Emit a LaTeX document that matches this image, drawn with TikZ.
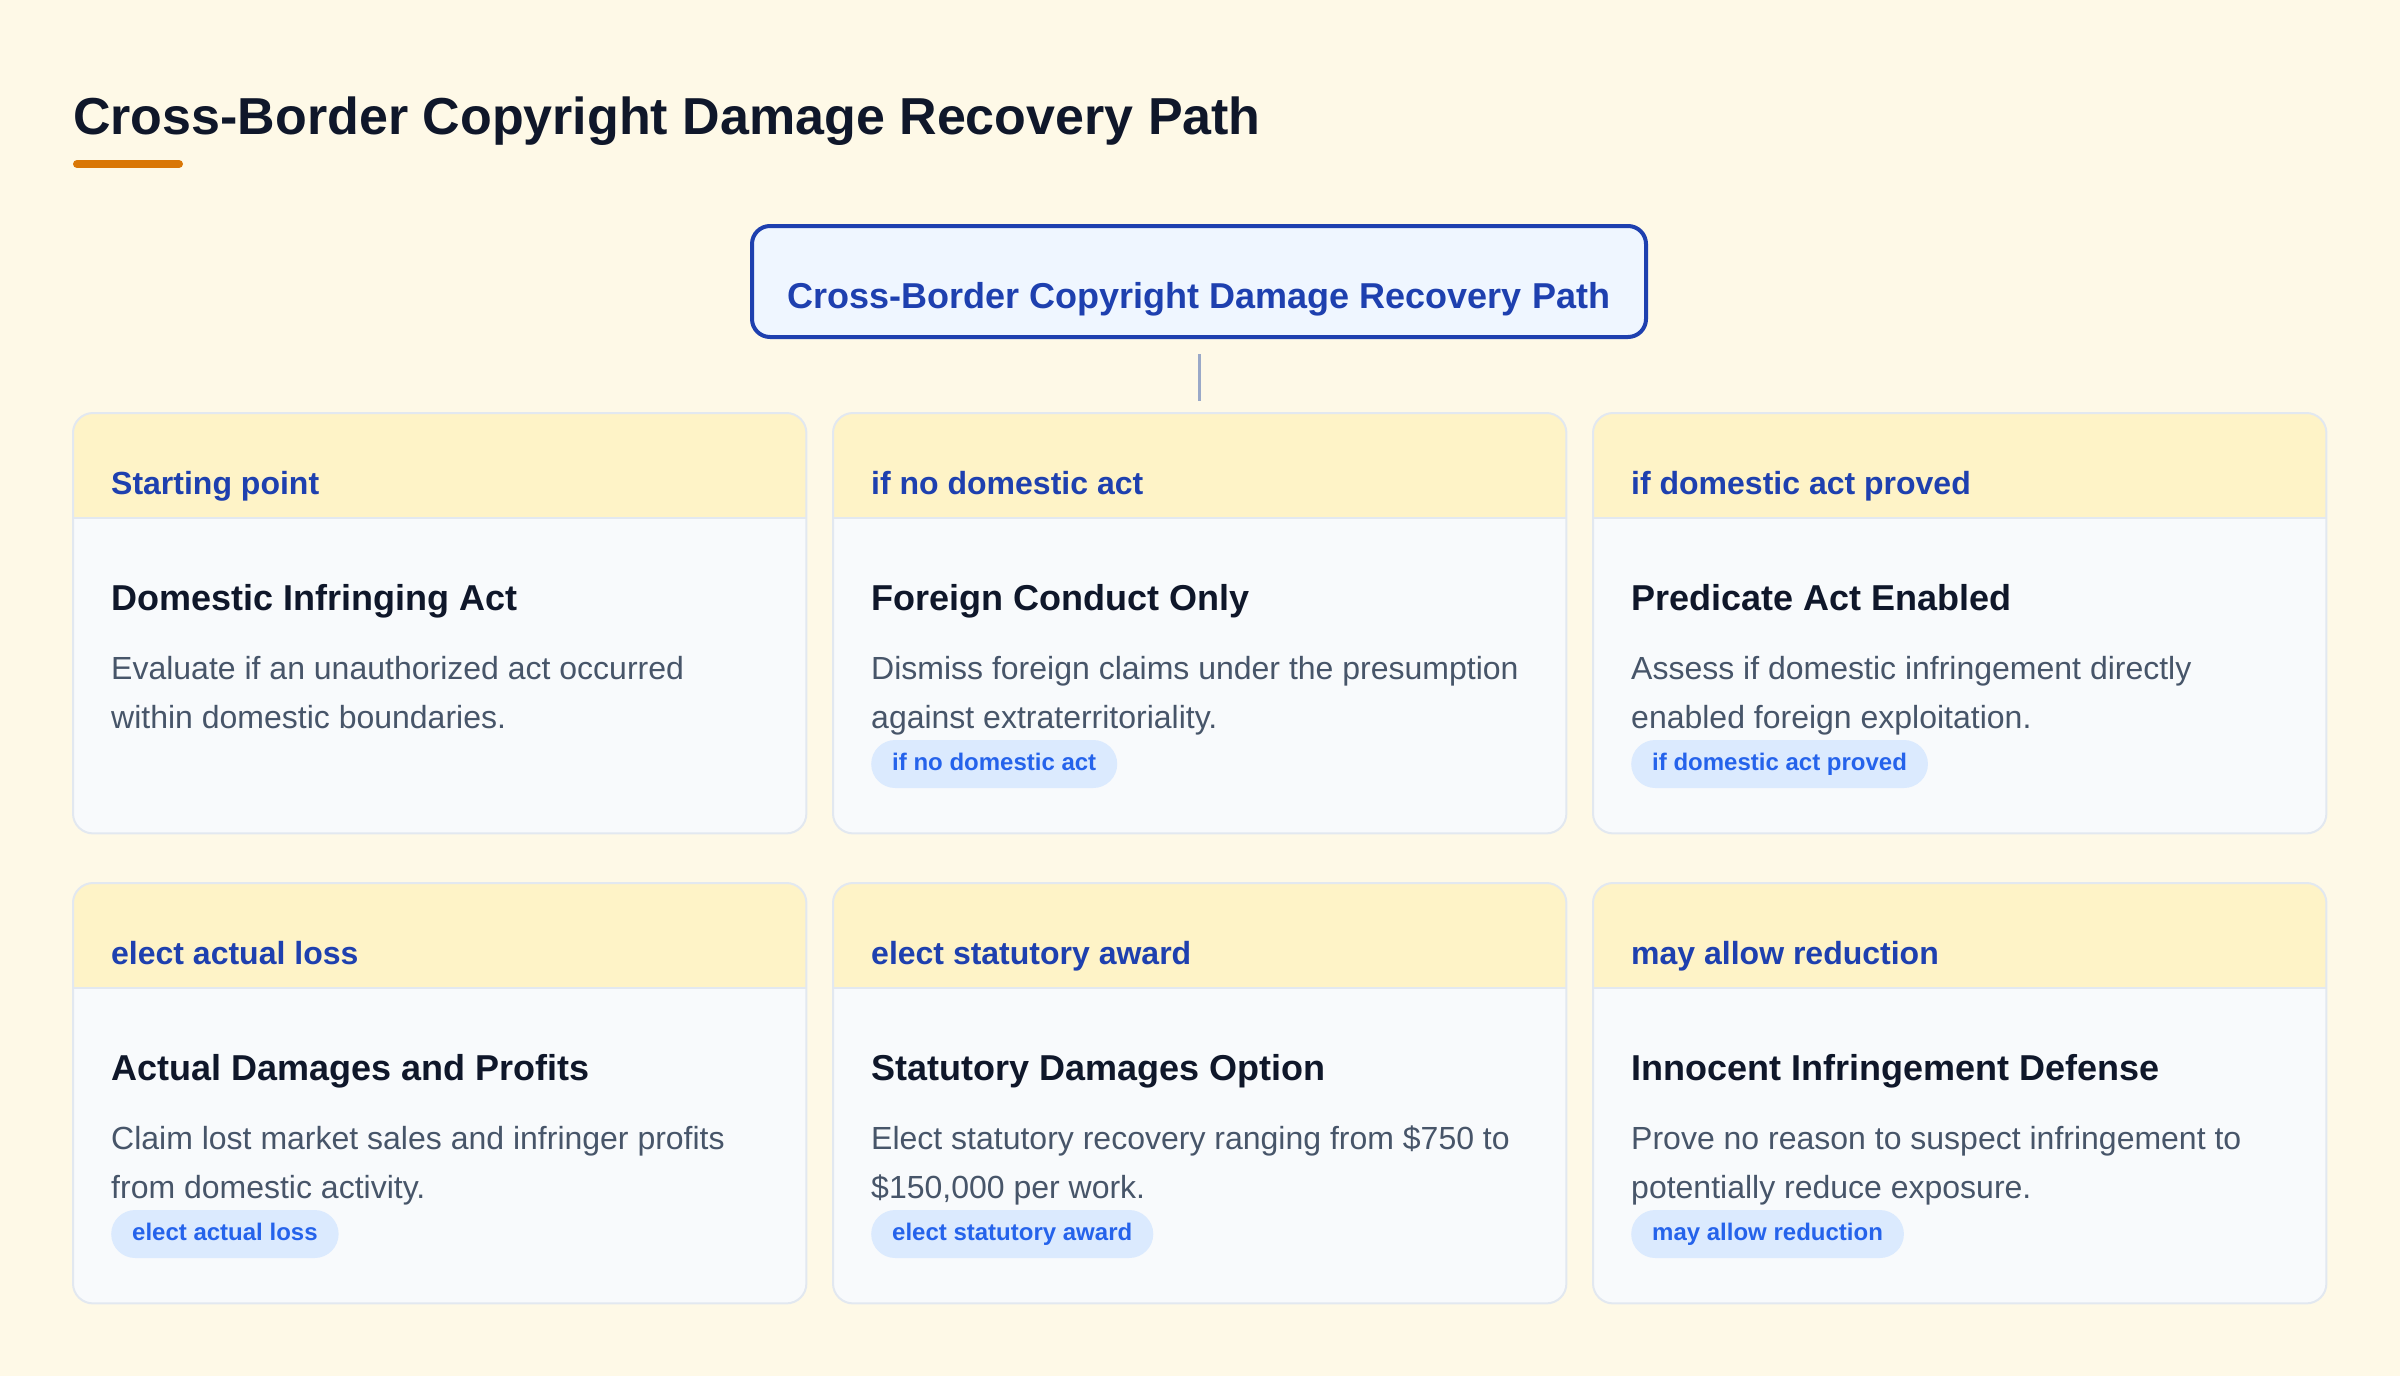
\documentclass[tikz,border=0pt]{standalone}
\usepackage{fontspec}
\setmainfont{Liberation Sans}
\usetikzlibrary{positioning,calc}
\definecolor{paper}{HTML}{FEF9E7}
\definecolor{ink}{HTML}{0F172A}
\definecolor{accent}{HTML}{D97706}
\definecolor{navy}{HTML}{1E40AF}
\definecolor{rootfill}{HTML}{EFF6FF}
\definecolor{headfill}{HTML}{FEF3C7}
\definecolor{bodyfill}{HTML}{F8FAFC}
\definecolor{rimline}{HTML}{E2E8F0}
\definecolor{slate}{HTML}{475569}
\definecolor{pillfill}{HTML}{DBEAFE}
\definecolor{pillink}{HTML}{2563EB}
\definecolor{stemline}{HTML}{9AA9C8}
\begin{document}
\begin{tikzpicture}[
x=1pt,y=-1pt,
heading/.style={font=\fontsize{52}{62}\selectfont\bfseries,text=ink,inner sep=0pt,anchor=base west},
underline/.style={accent,line width=8pt,line cap=round},
rootbox/.style={draw=navy,line width=4pt,fill=rootfill,rounded corners=18pt,
  minimum width=894pt,minimum height=111pt,text height=60pt,text depth=7pt,inner sep=0pt,
  font=\fontsize{36}{42}\selectfont\bfseries,text=navy},
stem/.style={stemline,line width=3pt},
card/.style={fill=bodyfill,minimum width=733pt,minimum height=420pt,anchor=north west,
  inner sep=0pt,rounded corners=20pt},
rim/.style={draw=rimline,line width=2pt},
tag/.style={font=\fontsize{32}{38}\selectfont\bfseries,text=navy,inner sep=0pt,anchor=base west},
stepname/.style={font=\fontsize{36}{44}\selectfont\bfseries,text=ink,inner sep=0pt,anchor=base west},
blurb/.style={font=\fontsize{32}{49}\selectfont,text=slate,inner sep=0pt,anchor=base west,align=left},
pill/.style={fill=pillfill,text=pillink,font=\fontsize{24}{28}\selectfont\bfseries,
  rounded corners=24pt,minimum height=48pt,text height=18pt,text depth=5pt,
  inner xsep=21pt,inner ysep=0pt,anchor=west}]
\fill[paper] (0,0) rectangle (2400,1376);
\useasboundingbox (0,0) rectangle (2400,1376);
\node[heading] (title) at (73,134) {Cross-Border Copyright Damage Recovery Path};
\draw[underline] ([shift={(4,30)}]title.base west) -- ++(102,0);
\node[rootbox] (root) at (1199,281.5) {Cross-Border Copyright Damage Recovery Path};
\coordinate (stem-end) at ([yshift=-62pt]root.south);
\draw[stem,shorten <=15pt] (root.south) -- (stem-end);
% six cards, two rows
\foreach \i/\c/\r/\head/\name/\lineA/\lineB in {
  1/0/0/Starting point/Domestic Infringing Act/Evaluate if an unauthorized act occurred/within domestic boundaries.,
  2/1/0/if no domestic act/Foreign Conduct Only/Dismiss foreign claims under the presumption/against extraterritoriality.,
  3/2/0/if domestic act proved/Predicate Act Enabled/Assess if domestic infringement directly/enabled foreign exploitation.,
  4/0/1/elect actual loss/Actual Damages and Profits/Claim lost market sales and infringer profits/from domestic activity.,
  5/1/1/elect statutory award/Statutory Damages Option/Elect statutory recovery ranging from \$750 to/{\$150,000 per work.},
  6/2/1/may allow reduction/Innocent Infringement Defense/Prove no reason to suspect infringement to/potentially reduce exposure.}
{
  \node[card] (card-\i) at (73+760*\c,413+470*\r) {};
  \begin{scope}
    \clip[rounded corners=20pt] (card-\i.north west) rectangle (card-\i.south east);
    \fill[headfill] (card-\i.north west) rectangle ([yshift=-105pt]card-\i.north east);
  \end{scope}
  \draw[rim] ([yshift=-105pt]card-\i.north west) -- ([yshift=-105pt]card-\i.north east);
  \draw[rim,rounded corners=20pt] (card-\i.north west) rectangle (card-\i.south east);
  \node[tag] (tag-\i) at ($(card-\i.north west)+(38,81)$) {\head};
  \node[stepname] (name-\i) at ($(card-\i.north west)+(38,197)$) {\name};
  % base of a two-line node is its last line
  \node[blurb] (blurb-\i) at ($(card-\i.north west)+(38,315)$) {\lineA\\\lineB};
}
\foreach \i/\txt in {2/if no domestic act,3/if domestic act proved,4/elect actual loss,
  5/elect statutory award,6/may allow reduction}
  \node[pill] (pill-\i) at ($(card-\i.north west)+(38,351)$) {\txt};
\end{tikzpicture}
\end{document}
